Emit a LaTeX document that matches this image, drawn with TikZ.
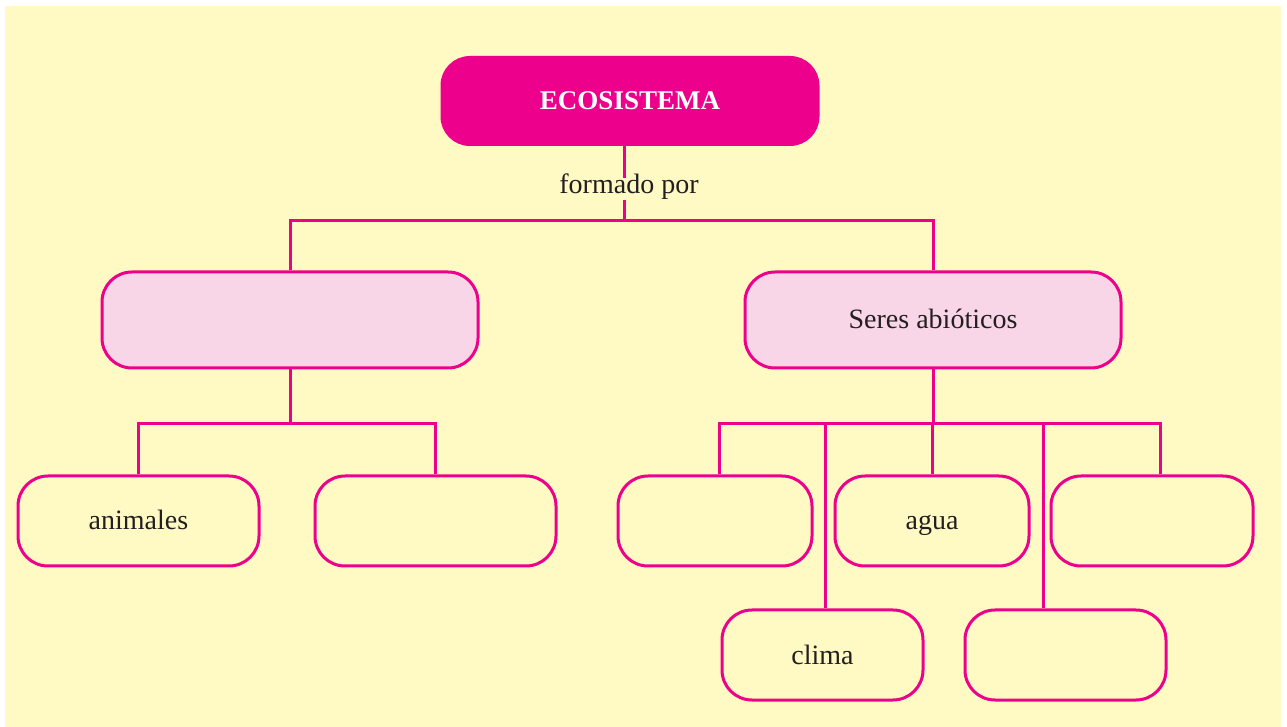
\documentclass[tikz,border=0pt]{standalone}
\usepackage{fontspec}
\setmainfont{Liberation Serif}
\definecolor{bgyel}{HTML}{FFF9C4}
\definecolor{mag}{HTML}{EC008C}
\definecolor{lpink}{HTML}{F9D6E7}
\definecolor{txt}{HTML}{231F20}
\tikzset{
  conn/.style={draw=mag, line width=1.5pt},
  topbox/.style={draw=mag, fill=mag, line width=1.5pt, rounded corners=14pt,
    minimum width=188pt, minimum height=43.5pt, text=white, text height=0.9em, text depth=0pt,
    font=\fontsize{13.5}{16}\selectfont\bfseries},
  midbox/.style={draw=mag, fill=lpink, line width=1.5pt, rounded corners=15pt,
    minimum width=188pt, minimum height=48pt, text=txt, text height=0.9em, text depth=0pt,
    font=\fontsize{14}{17}\selectfont},
  leafbox/.style={draw=mag, fill=bgyel, line width=1.5pt, rounded corners=15pt,
    minimum height=45pt, text=txt, text height=0.9em, text depth=0pt,
    font=\fontsize{14}{17}\selectfont},
  lbl/.style={fill=bgyel, inner sep=1pt, text=txt, text height=0.7em, text depth=0.2em,
    font=\fontsize{14}{17}\selectfont}
}
\begin{document}
\begin{tikzpicture}[x=0.5pt,y=-0.5pt]
\useasboundingbox (0,0) rectangle (1287,727);
\fill[bgyel] (5,6) rectangle (1281,727);
% coordinates for bars
\coordinate (j1) at (624,221);
\coordinate (j2) at (290,424);
\coordinate (j3) at (931,424);
\coordinate (e1) at (719,424);
\coordinate (e3) at (1160,424);
\coordinate (v2) at (825,424);
\coordinate (v5) at (1043,424);
% nodes
\node[topbox] (eco) at (630,101) {ECOSISTEMA};
\node[midbox] (bio) at (290,320) {};
\node[midbox] (abio) at (933,320) {Seres abióticos};
\node[leafbox, minimum width=120.5pt] (a1) at (138.5,521) {animales};
\node[leafbox, minimum width=120.5pt] (a2) at (435.5,521) {};
\node[leafbox, minimum width=97pt] (r1) at (715,521) {};
\node[leafbox, minimum width=97pt] (r2) at (932,521) {agua};
\node[leafbox, minimum width=101pt] (r3) at (1152,521) {};
\node[leafbox, minimum width=100.5pt] (r4) at (822.5,655) {clima};
\node[leafbox, minimum width=100.5pt] (r5) at (1065.5,655) {};
% connectors
\draw[conn] (eco.south -| j1) -- (j1);
\draw[conn] (bio.north) -- (bio.north |- j1) -- (abio.north |- j1) -- (abio.north);
\draw[conn] (bio.south) -- (bio.south |- j2);
\draw[conn] (a1.north) -- (a1.north |- j2) -- (a2.north |- j2) -- (a2.north);
\draw[conn] (abio.south) -- (abio.south |- j3);
\draw[conn] (e1 |- r1.north) -- (e1) -- (e3) -- (e3 |- r3.north);
\draw[conn] (r2.north) -- (r2.north |- j3);
\draw[conn] (v2) -- (v2 |- r4.north);
\draw[conn] (v5) -- (v5 |- r5.north);
\node[lbl] (lab) at (629,189) {formado por};
\end{tikzpicture}
\end{document}
